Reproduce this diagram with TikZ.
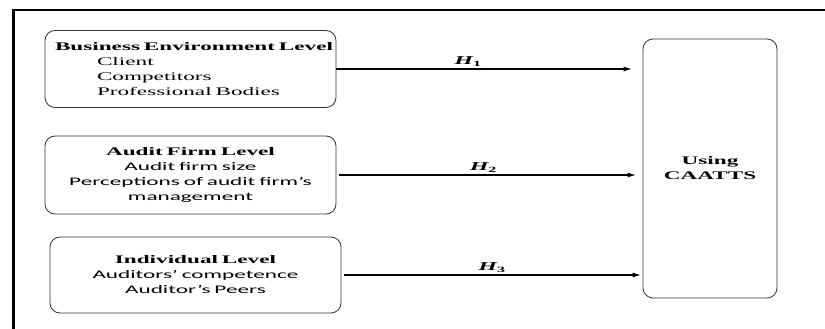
\documentclass[tikz,border=0pt]{standalone}
\usepackage{fontspec}
\setmainfont{Liberation Serif}[FakeStretch=2]
\newfontfamily\calibri{Carlito}[FakeStretch=2]
\usetikzlibrary{arrows.meta}

\begin{document}
\begin{tikzpicture}[x=1pt, y=-1pt,
    level/.style={draw=black!80, line width=0.8pt, rounded corners=10pt,
        minimum width=291pt, inner xsep=10pt, text width=271pt,
        font=\fontsize{11.6}{15}\selectfont},
    hyp/.style={line width=1.6pt, -{Latex[length=9pt, width=5pt]}},
    hlabel/.style={above, inner sep=2pt, font=\fontsize{12}{13}\selectfont\bfseries\itshape}]
    \useasboundingbox (0, 0) rectangle (825, 329);
    % Frame
    \draw[line width=2pt] (12, 10.5) -- (825, 10.5);
    \draw[line width=3pt] (13.5, 9.5) -- (13.5, 329);
    % Levels
    \node[level, align=left, minimum height=77pt] (BizEnv) at (190.5, 69) {
        \mbox{\textbf{Business Environment Level}}\\
        \hspace*{42pt}Client\\
        \hspace*{42pt}Competitors\\
        \hspace*{42pt}Professional Bodies
    };
    \node[level, align=center, minimum height=78pt] (AuditFirm) at (190.5, 175) {
        \textbf{Audit Firm Level}\\
        {\calibri Audit firm size}\\
        {\calibri Perceptions of audit firm’s}\\
        {\calibri management}
    };
    \node[level, align=center, minimum height=76pt] (Individual) at (195.5, 275) {
        \textbf{Individual Level}\\
        {\calibri Auditors’ competence}\\
        {\calibri Auditor’s Peers}\\[4pt]
    };
    \node[draw=black!80, line width=0.8pt, rounded corners=10pt,
        minimum width=134pt, minimum height=259pt, align=center,
        font=\fontsize{11.6}{15}\selectfont\bfseries] (UsingCaatts) at (710, 168.5) {
        Using\\
        CAATTS
    };
    % Hypotheses
    \draw[hyp, shorten >=10pt] (BizEnv.east)
        -- node[hlabel, pos=0.43] {H\textsubscript{\upshape 1}} (BizEnv.east -| UsingCaatts.west);
    \draw[hyp, shorten <=3pt, shorten >=6pt] (AuditFirm.east)
        -- node[hlabel, pos=0.48] {H\textsubscript{\upshape 2}} (AuditFirm.east -| UsingCaatts.west);
    \draw[hyp, shorten <=3pt, shorten >=1pt] (Individual.east)
        -- node[hlabel, pos=0.5] {H\textsubscript{\upshape 3}} (Individual.east -| UsingCaatts.west);
\end{tikzpicture}
\end{document}
